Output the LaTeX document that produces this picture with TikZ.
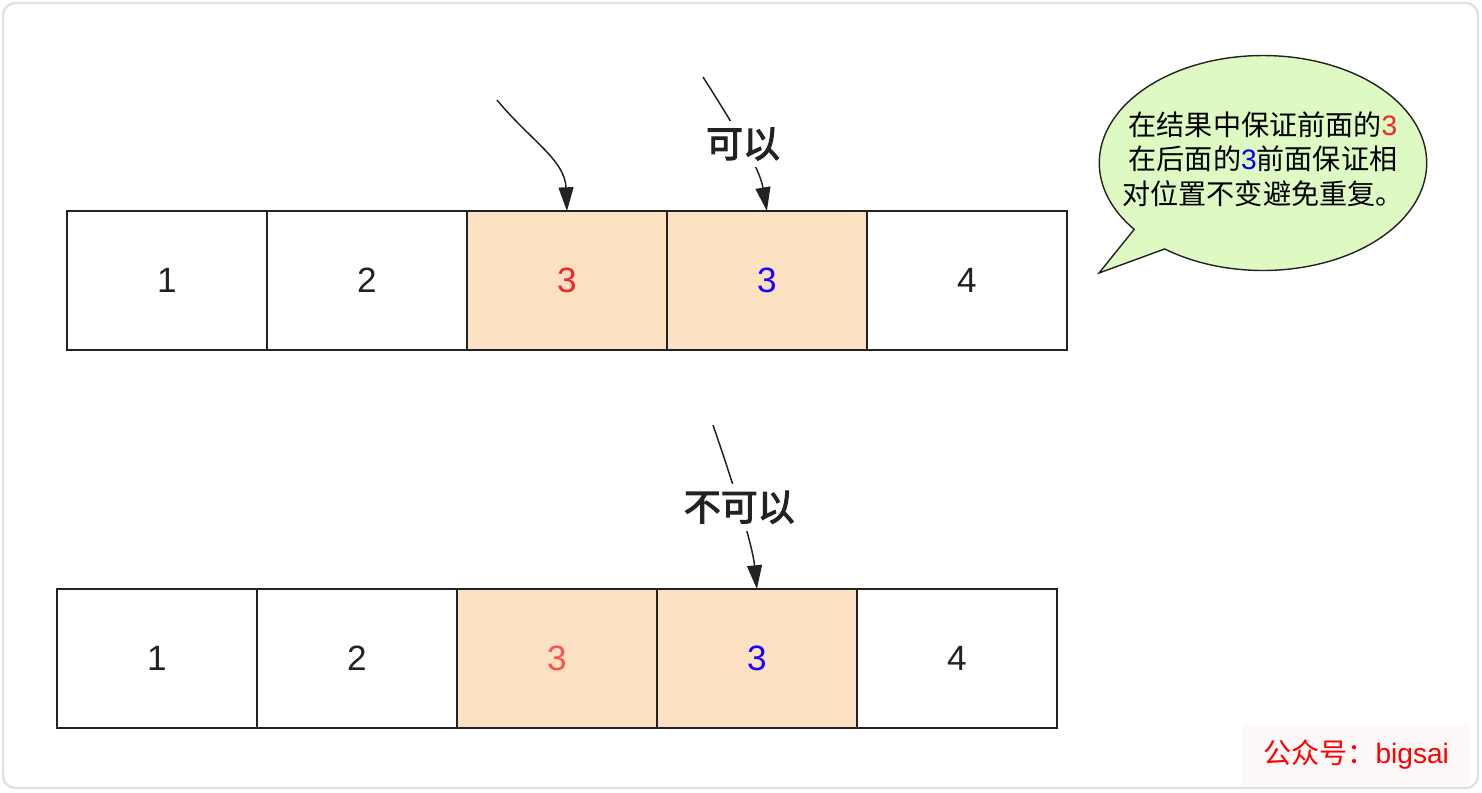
\documentclass[tikz,border=0pt]{standalone}
\usepackage{fontspec}
\setmainfont{Liberation Sans}
\newfontfamily\cjk{Noto Sans CJK SC}
\newfontfamily\cjkmid[FakeBold=3]{Noto Sans CJK SC}
\usepackage{tikz}
\usetikzlibrary{positioning,arrows.meta,shapes.callouts}
\usepackage{xcolor}
\definecolor{peach}{HTML}{FCE0C2}
\definecolor{leaf}{HTML}{DEF9C2}
\definecolor{redthree}{HTML}{F5222D}
\definecolor{paleredthree}{HTML}{FF5050}
\definecolor{bluethree}{HTML}{1A00FF}
\definecolor{ink}{HTML}{222222}
\definecolor{stampbg}{HTML}{FFF8F8}

\begin{document}
\begin{tikzpicture}[
  x=0.02cm, y=-0.02cm,
  node distance=0pt,
  cell/.style={draw=ink, line width=1.1pt, minimum width=4cm, minimum height=2.78cm, inner sep=0pt, outer sep=0pt, text=ink, font=\fontsize{20}{24}\selectfont},
  dupcell/.style={cell, fill=peach},
  flow/.style={-{Triangle[length=13.5pt,width=8.5pt]}, line width=0.85pt, color=ink},
  verdict/.style={fill=white, inner sep=4pt, text=ink, font=\cjkmid\fontsize{21}{24}\selectfont},
  callnote/.style={ellipse callout, draw=ink, line width=0.8pt, fill=leaf, minimum width=6.55cm, minimum height=4.3cm, inner sep=0pt, font=\cjk\fontsize{16}{19.8}\selectfont},
  stamp/.style={fill=stampbg, minimum width=4.54cm, minimum height=1.26cm, text=red, font=\cjk\fontsize{16}{19}\selectfont}
]
  \useasboundingbox (0,0) rectangle (1482,792);
  \draw[black!12, line width=1.4pt, rounded corners=7pt] (3,3) rectangle (1478,788);

  % top row: allowed
  \node[cell] (a1) at (167,280.5) {1};
  \node[cell, right=of a1] (a2) {2};
  \node[dupcell, right=of a2] (a3) {\textcolor{redthree}{3}};
  \node[dupcell, right=of a3] (a4) {\textcolor{bluethree}{3}};
  \node[cell, right=of a4] (a5) {4};

  % bottom row: not allowed
  \node[cell] (b1) at (157,658.5) {1};
  \node[cell, right=of b1] (b2) {2};
  \node[dupcell, right=of b2] (b3) {\textcolor{paleredthree}{3}};
  \node[dupcell, right=of b3] (b4) {\textcolor{bluethree}{3}};
  \node[cell, right=of b4] (b5) {4};

  \coordinate (s1) at (497,100);
  \coordinate (s2) at (703,77);
  \coordinate (s3) at (713,425);

  \draw[flow] (s1) .. controls (530,140) and (565,160) .. (a3.north);
  \draw[flow] (s2) .. controls (740,135) and (760,170) .. (a4.north)
    node[verdict, pos=0.45] {可以};
  \draw[flow] (s3) .. controls (725,460) and (752,540) .. (b4.north)
    node[verdict, pos=0.53] {不可以};

  \node[callnote, callout absolute pointer={(1099,273)}] (note) at (1263,163)
    {\makebox[0pt]{\begin{tabular}{@{}c@{}}
       在结果中保证前面的{\rmfamily\color{redthree}3}\\
       在后面的{\rmfamily\color{blue}3}前面保证相\\
       对位置不变避免重复。
     \end{tabular}}};

  \node[stamp] (sign) at (1356,755) {公众号：{\rmfamily bigsai}};
\end{tikzpicture}
\end{document}
